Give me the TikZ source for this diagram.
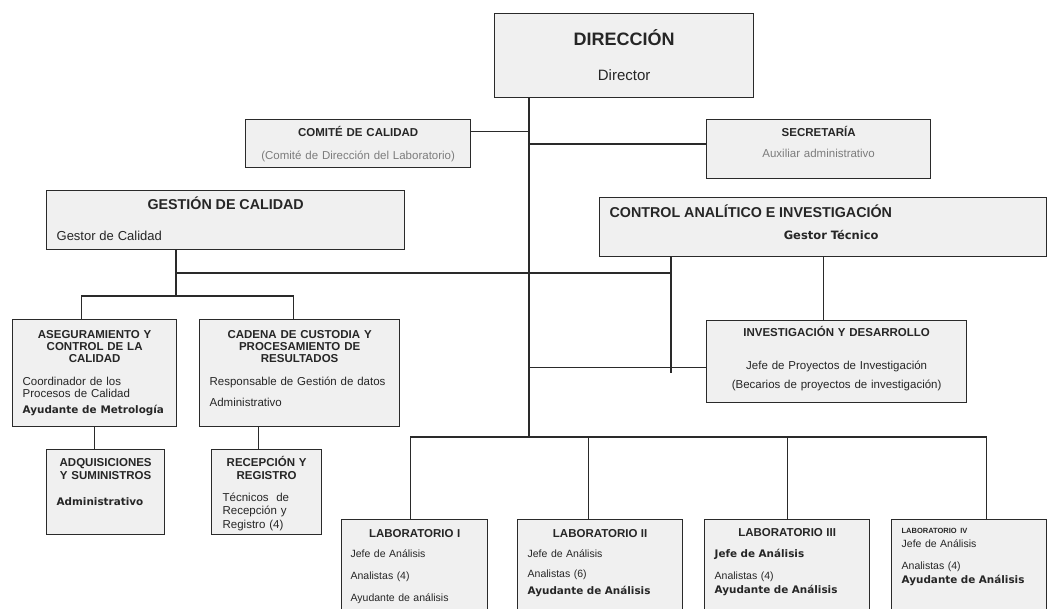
\documentclass[tikz,border=0pt]{standalone}
\usepackage{fontspec}
\setmainfont{Liberation Sans}
\newfontfamily\verd{DejaVu Sans}
\usepackage{xcolor}
\usetikzlibrary{positioning}

\definecolor{boxfill}{HTML}{F0F0F0}
\definecolor{boxline}{HTML}{2A2A2A}
\definecolor{txt}{HTML}{262626}
\definecolor{soft}{HTML}{7C7C7C}
\newcommand{\hd}{\fontsize{11.5}{12}\selectfont\bfseries}
\newcommand{\vb}{\fontsize{10.4}{12}\verd\bfseries}

\begin{document}
\begin{tikzpicture}[x=1pt, y=-1pt,
    box/.style={rectangle, draw=boxline, line width=1.3pt, fill=boxfill, anchor=north west,
      inner ysep=0pt, inner xsep=10pt, text=txt, font=\fontsize{11.5}{12}\selectfont},
    lab/.style={box, font=\fontsize{10.5}{12}\selectfont},
    link/.style={draw=boxline, line width=1.3pt}]

    \useasboundingbox (0,0) rectangle (1048,609);
    \clip (0,0) rectangle (1048,609);

    % direction level
    \node[box, text width=239pt, align=center, text height=31.5pt, text depth=52.5pt] (dir) at (494,13)
      {{\fontsize{18}{12}\selectfont\bfseries DIRECCIÓN}\\[23.5pt]{\fontsize{15}{12}\selectfont Director}};
    \node[box, text width=205pt, align=center, text height=17pt, text depth=31pt] (com) at (245,119)
      {\bfseries COMITÉ DE CALIDAD\\[11pt]{\color{soft}\mdseries (Comité de Dirección del Laboratorio)}};
    \node[box, text width=204pt, align=center, text height=17pt, text depth=42pt] (sec) at (706,119)
      {\bfseries SECRETARÍA\\[9pt]{\color{soft}\mdseries Auxiliar administrativo}};

    % managers
    \node[box, text width=338pt, text height=19pt, text depth=40pt] (ges) at (46,190)
      {{\centering\fontsize{14.3}{12}\selectfont\bfseries GESTIÓN DE CALIDAD\par}\vspace{19pt}{\fontsize{13}{12}\selectfont Gestor de Calidad}};
    \node[box, text width=427pt, text height=20pt, text depth=39pt] (cai) at (599,197)
      {{\fontsize{14.3}{12}\selectfont\bfseries CONTROL ANALÍTICO E INVESTIGACIÓN\par}\vspace{10pt}{\centering\hspace*{16pt}{\fontsize{11.5}{12}\verd\bfseries Gestor Técnico}\par}};

    % quality units
    \node[box, text width=144pt, text height=19pt, text depth=88pt] (ase) at (12,319)
      {{\centering\bfseries ASEGURAMIENTO Y\\CONTROL DE LA\\CALIDAD\par}\vspace{11pt}Coordinador de los\\Procesos de Calidad\\[4pt]{\vb Ayudante de Metrología}};
    \node[box, text width=180pt, text height=19pt, text depth=88pt] (cad) at (199,319)
      {{\centering\bfseries CADENA DE CUSTODIA Y\\PROCESAMIENTO DE\\RESULTADOS\par}\vspace{11pt}Responsable de Gestión de datos\\[9pt]Administrativo};
    \node[box, text width=98pt, text height=17pt, text depth=68pt] (adq) at (46,449)
      {{\centering\bfseries ADQUISICIONES\\[1pt]Y SUMINISTROS\par}\vspace{14pt}{\vb Administrativo}};
    \node[box, inner xsep=11pt, text width=88pt, text height=17pt, text depth=68pt] (rec) at (211,449)
      {{\centering\bfseries RECEPCIÓN Y\\[1pt]REGISTRO\par}\vspace{10pt}Técnicos\ \ de\\[1pt]Recepción y\\[2pt]Registro (4)};

    % research
    \node[box, text width=240pt, align=center, text height=16pt, text depth=66pt] (idd) at (706,320)
      {{\bfseries INVESTIGACIÓN Y DESARROLLO}\\[21pt]Jefe de Proyectos de Investigación\\[7pt](Becarios de proyectos de investigación)};

    % laboratories
    \node[lab, inner xsep=9pt, text width=128pt, text height=18pt, text depth=83pt] (lab1) at (341,519)
      {{\centering\hd LABORATORIO I\par}\vspace{8pt}Jefe de Análisis\\[10pt]Analistas (4)\\[10pt]Ayudante de análisis};
    \node[lab, text width=145pt, text height=18pt, text depth=83pt] (lab2) at (517,519)
      {{\centering\hd LABORATORIO II\par}\vspace{8pt}Jefe de Análisis\\[8pt]Analistas (6)\\[5pt]{\vb Ayudante de Análisis}};
    \node[lab, text width=145pt, text height=17pt, text depth=84pt] (lab3) at (704,519)
      {{\centering\hd LABORATORIO III\par}\vspace{9pt}{\vb Jefe de Análisis}\\[10pt]Analistas (4)\\[2pt]{\vb Ayudante de Análisis}};
    \node[lab, text width=135pt, text height=14pt, text depth=87pt] (lab4) at (891,519)
      {{\fontsize{7.5}{12}\selectfont\bfseries LABORATORIO IV}\\[2pt]Jefe de Análisis\\[10pt]Analistas (4)\\[2pt]{\vb Ayudante de Análisis}};

    % connectors
    \coordinate (tk) at (529,437);
    \coordinate (qa) at (176,273);
    \coordinate (qb) at (671,273);
    \coordinate (qc) at (671,373);
    \coordinate (qd) at (176,296);

    \draw[link] (dir.south -| tk) -- (tk);
    \draw[link] ([yshift=12pt]com.east) -- ([yshift=12pt]com.east -| tk);
    \draw[link] ([yshift=5pt]sec.west -| tk) -- ([yshift=5pt]sec.west);

    \draw[link] (ges.south -| qa) -- (qd);
    \draw[link] (qa) -- (qb);
    \draw[link] (cai.south -| qb) -- (qc);
    \draw[link] ([xshift=-13pt]ase.north) |- (qd) -| ([xshift=-6pt]cad.north);
    \draw[link] (ase.south) -- (ase.south |- adq.north);
    \draw[link] ([xshift=-8pt]rec.north) -- ([xshift=-8pt]rec.north |- cad.south);

    \draw[link] (cai.south) -- (cai.south |- idd.north);
    \draw[link] ([yshift=-6pt]idd.west -| tk) -- ([yshift=-6pt]idd.west);

    \draw[link] ([xshift=-4pt]lab1.north) |- (tk) -| ([xshift=17pt]lab4.north);
    \draw[link] ([xshift=-12pt]lab2.north) -- ([xshift=-12pt]lab2.north |- tk);
    \draw[link] (lab3.north) -- (lab3.north |- tk);

\end{tikzpicture}
\end{document}
